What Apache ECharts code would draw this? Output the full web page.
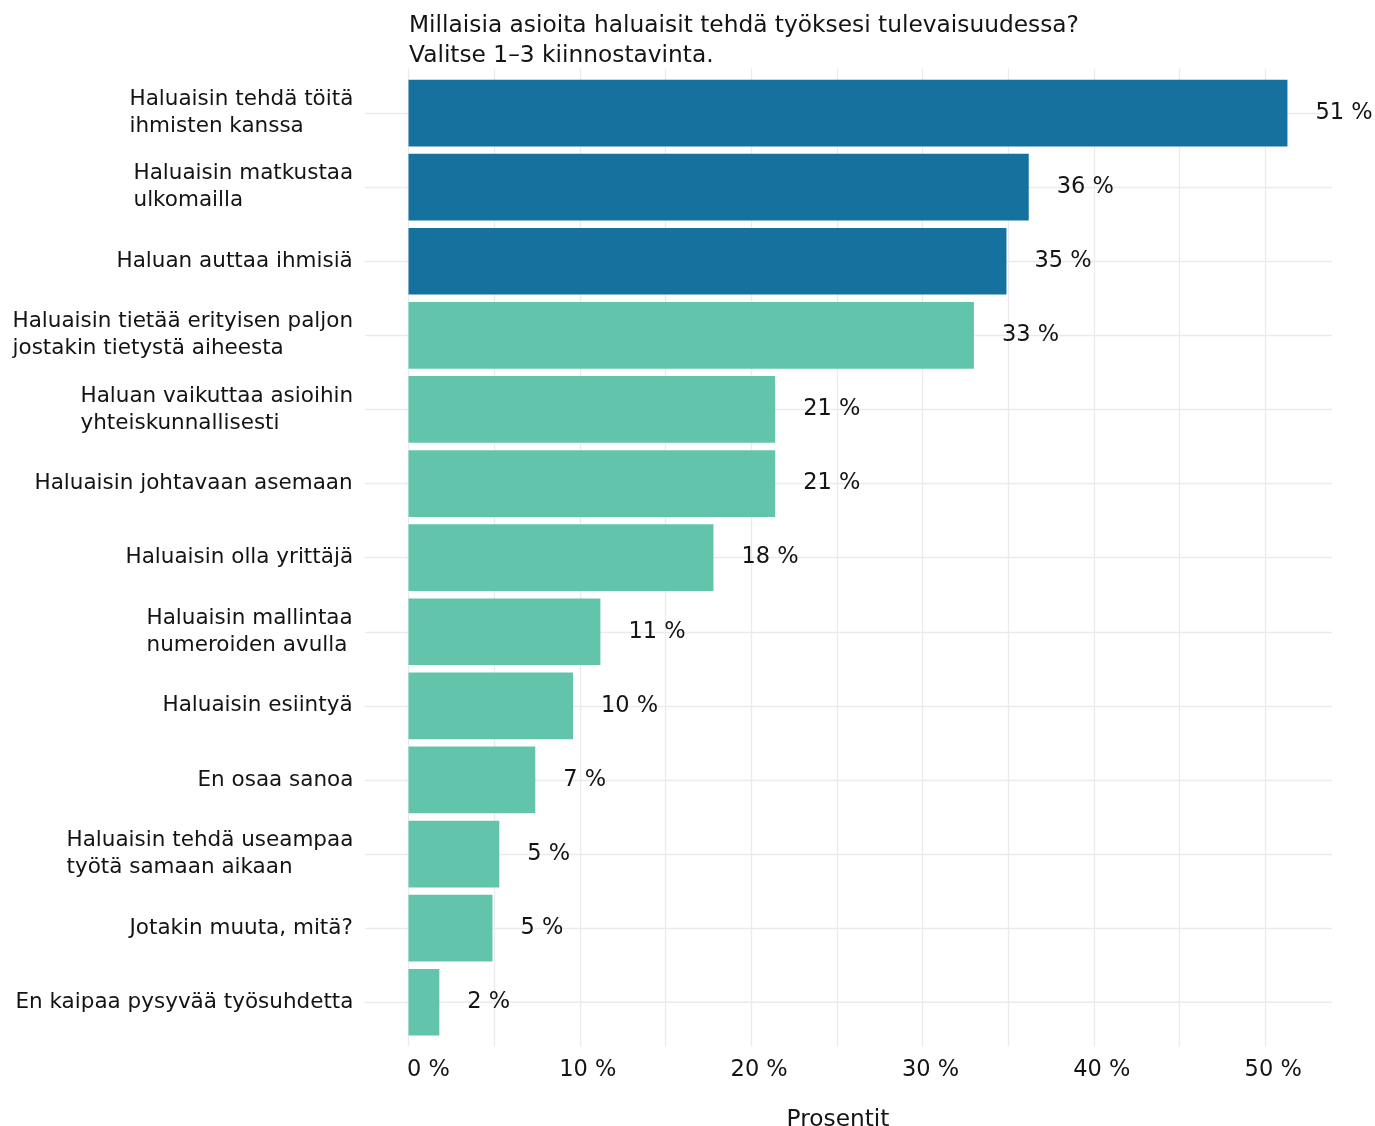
<!DOCTYPE html>
<html>
<head>
<meta charset="utf-8">
<script src="https://cdn.jsdelivr.net/npm/echarts@6/dist/echarts.min.js"></script>
<style>
  html, body { margin: 0; padding: 0; background: #ffffff; }
  #chart { width: 1375px; height: 1126px; }
</style>
</head>
<body>
<div id="chart"></div>
<script>
// ---- Data ----
const titleText = 'Millaisia asioita haluaisit tehdä työksesi tulevaisuudessa?\nValitse 1–3 kiinnostavinta.';
const axisTitle = 'Prosentit';
const categories = [
  'Haluaisin tehdä töitä\nihmisten kanssa',
  'Haluaisin matkustaa\nulkomailla',
  'Haluan auttaa ihmisiä',
  'Haluaisin tietää erityisen paljon\njostakin tietystä aiheesta',
  'Haluan vaikuttaa asioihin\nyhteiskunnallisesti',
  'Haluaisin johtavaan asemaan',
  'Haluaisin olla yrittäjä',
  'Haluaisin mallintaa\nnumeroiden avulla',
  'Haluaisin esiintyä',
  'En osaa sanoa',
  'Haluaisin tehdä useampaa\ntyötä samaan aikaan',
  'Jotakin muuta, mitä?',
  'En kaipaa pysyvää työsuhdetta'
];
const values = [51.3, 36.2, 34.9, 33.0, 21.4, 21.4, 17.8, 11.2, 9.6, 7.4, 5.3, 4.9, 1.8];
const topGroupCount = 3;
const tickValuesStep = 10;

// ---- Styles ----
const FONT = '"DejaVu Sans", Verdana, sans-serif';
const TXT = '#141414';
const GRID = '#ebebeb';
const BLUE = '#15729f';
const TEAL = '#62c4ab';
const LABEL_SIZE = 21.5;
const NUM_SIZE = 22.5;

const ctx = document.createElement('canvas').getContext('2d');
ctx.font = LABEL_SIZE + 'px "DejaVu Sans"';
const rich = {};
categories.forEach((c, i) => {
  const w = Math.max(...c.split('\n').map(l => ctx.measureText(l).width));
  rich['c' + i] = {
    width: Math.ceil(w) + 1, align: 'left',
    fontSize: LABEL_SIZE, fontFamily: FONT, color: TXT, lineHeight: 27
  };
});

const chart = echarts.init(document.getElementById('chart'), null, { renderer: 'canvas' });

const XMAX = 53.9;
const plotLeft = 408.5, plotRight = 1375 - 1332;

chart.setOption({
  backgroundColor: '#ffffff',
  animation: false,
  title: [
    {
      text: titleText, left: 404, top: 6,
      textStyle: { fontFamily: FONT, fontSize: 23.3, fontWeight: 'normal', color: TXT, lineHeight: 30 }
    },
    {
      text: axisTitle, left: 833, top: 1103, textAlign: 'center',
      textStyle: { fontFamily: FONT, fontSize: 23.3, fontWeight: 'normal', color: TXT }
    }
  ],
  grid: [
    { left: plotLeft, right: plotRight, top: 76, height: 963.3, containLabel: false },
    { left: plotLeft, right: plotRight, top: 68.5, bottom: 1126 - 1046.5, containLabel: false }
  ],
  xAxis: [
    { type: 'value', gridIndex: 0, min: 0, max: XMAX, show: false },
    {
      type: 'value', gridIndex: 1, min: 0, max: XMAX, interval: tickValuesStep / 2,
      axisLine: { show: false }, axisTick: { show: false },
      splitLine: { show: true, showMaxLine: false, lineStyle: { color: GRID, width: 1.3 } },
      axisLabel: {
        show: true, margin: 12, fontFamily: FONT, fontSize: NUM_SIZE, color: TXT,
        showMaxLabel: false, padding: [0, 0, 0, 16],
        rich: { z: { fontFamily: FONT, fontSize: NUM_SIZE, color: TXT, padding: [0, 0, 0, 24] } },
        formatter: v => {
          if (Math.abs(v % tickValuesStep) > 1e-9) return '';
          const t = Math.round(v) + ' %';
          return v === 0 ? '{z|' + t + '}' : t;
        }
      }
    }
  ],
  yAxis: [
    {
      type: 'category', gridIndex: 0, data: categories, inverse: true,
      axisLine: { show: false },
      axisTick: { show: true, alignWithLabel: true, inside: false, length: 43.5, lineStyle: { color: GRID, width: 1.3 } },
      splitLine: { show: false },
      axisLabel: {
        margin: 54, align: 'right', rich: rich,
        formatter: (value) => {
          const i = categories.indexOf(value);
          return value.split('\n').map(l => '{c' + i + '|' + l + '}').join('\n');
        }
      }
    },
    {
      type: 'category', gridIndex: 0, data: categories, inverse: true, position: 'right',
      axisLine: { show: false }, axisLabel: { show: false }, splitLine: { show: false },
      axisTick: { show: true, alignWithLabel: true, inside: true, length: 1332 - 408.5, lineStyle: { color: GRID, width: 1.3 } }
    },
    { type: 'value', gridIndex: 1, show: false, min: 0, max: 1 }
  ],
  series: [
    {
      type: 'bar', xAxisIndex: 0, yAxisIndex: 0, z: 3,
      barCategoryGap: '10%',
      data: values.map((v, i) => ({ value: v, itemStyle: { color: i < topGroupCount ? BLUE : TEAL } })),
      label: {
        show: true, position: 'right', distance: 28,
        fontFamily: FONT, fontSize: NUM_SIZE, color: TXT,
        formatter: p => Math.round(p.value) + ' %'
      }
    }
  ]
});
</script>
</body>
</html>
